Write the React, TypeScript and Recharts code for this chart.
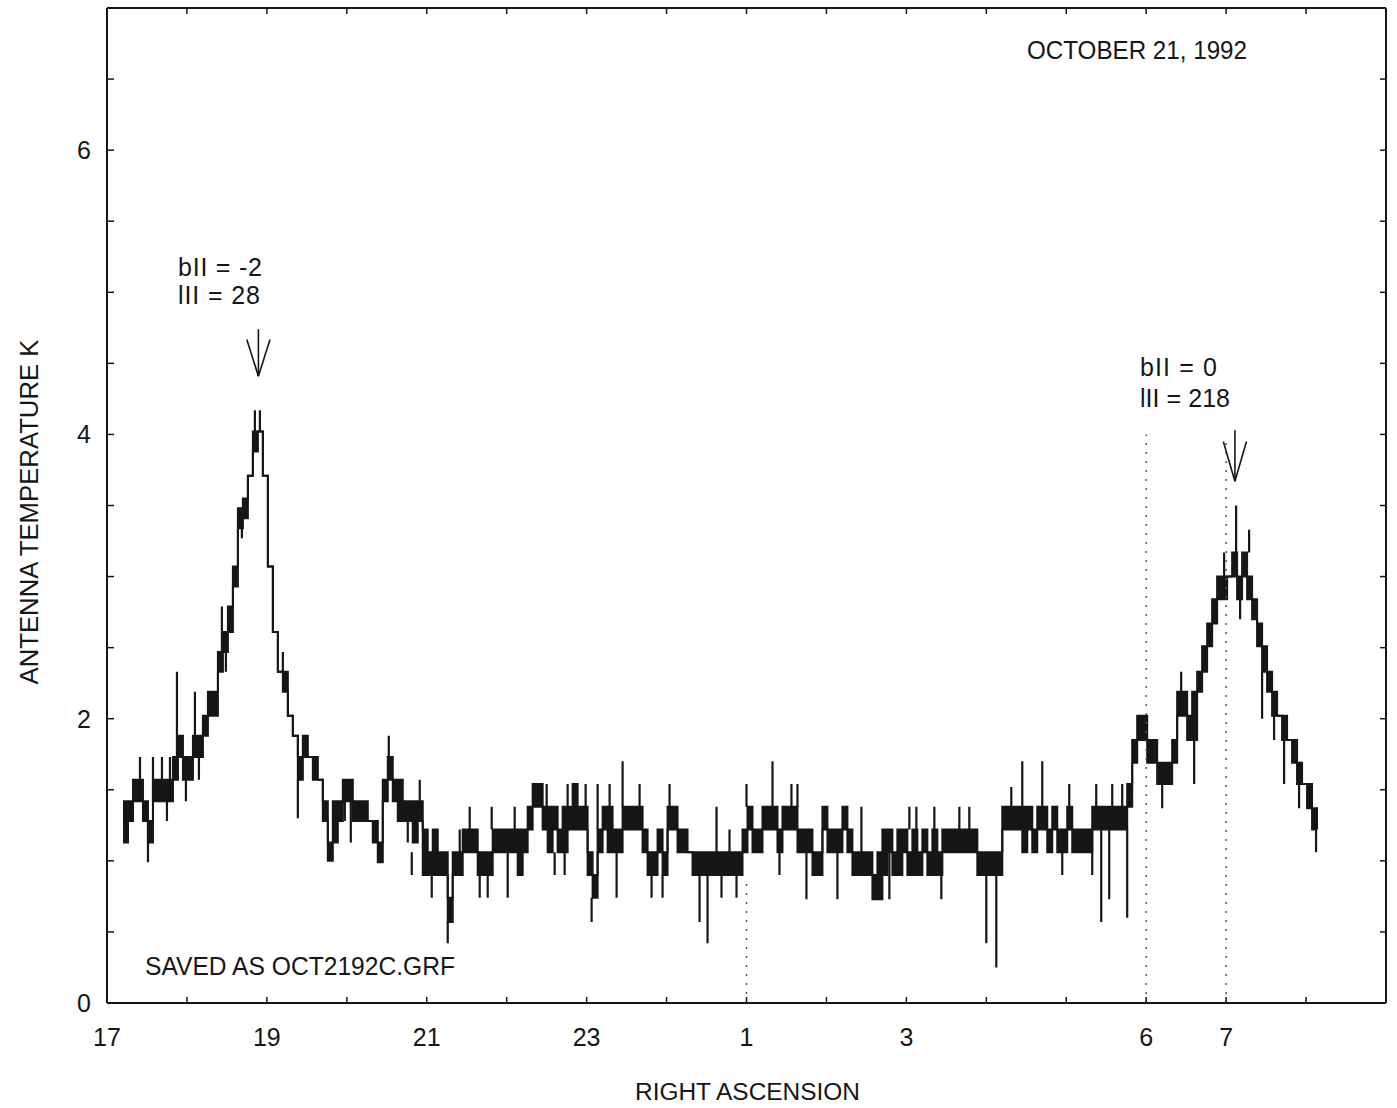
import React from 'react';
import { ComposedChart, Area, Line, XAxis, YAxis, ReferenceLine } from 'recharts';

const FONT = '"Liberation Sans", Arial, Helvetica, sans-serif';
const INK = '#161616';

// drift scan: first reading 0.2 h after 17h RA, one reading every 1/16 h
const SCAN_START = 0.2;
const SCAN_STEP = 0.0625;

// [low, high] of the pen trace (K) for each reading
// 17h - 20.9h, galactic plane crossing at lII = 28
const bandRise = [
  [1.13, 1.42], [1.28, 1.42], [1.42, 1.57], [1.42, 1.57], [1.28, 1.42], [1.13, 1.28], [1.42, 1.57], [1.42, 1.57], [1.42, 1.57], [1.42, 1.57],
  [1.57, 1.73], [1.73, 1.88], [1.57, 1.73], [1.57, 1.73], [1.73, 1.88], [1.73, 1.88], [1.88, 2.02], [2.02, 2.19], [2.02, 2.19], [2.33, 2.47],
  [2.47, 2.61], [2.61, 2.79], [2.93, 3.07], [3.34, 3.48], [3.41, 3.55], [3.71, 3.71], [3.88, 4.02], [4.02, 4.02], [3.71, 3.71], [3.07, 3.07],
  [2.61, 2.61], [2.33, 2.33], [2.19, 2.33], [2.02, 2.02], [1.88, 1.88], [1.57, 1.73], [1.73, 1.88], [1.73, 1.73], [1.57, 1.73], [1.57, 1.57],
  [1.28, 1.42], [1.0, 1.13], [1.13, 1.42], [1.28, 1.42], [1.42, 1.57], [1.42, 1.57], [1.28, 1.42], [1.28, 1.42], [1.28, 1.42], [1.28, 1.28],
  [1.13, 1.28], [0.99, 1.13], [1.42, 1.57], [1.57, 1.73], [1.42, 1.57], [1.28, 1.57], [1.28, 1.42], [1.28, 1.42], [1.13, 1.42], [1.28, 1.42],
];

// 21h - 1.6h, off the plane
const bandHighLat = [
  [0.9, 1.22], [0.9, 1.06], [0.9, 1.22], [0.9, 1.06], [0.9, 1.06], [0.57, 0.74], [0.9, 1.06], [0.9, 1.06], [1.06, 1.22], [1.06, 1.22],
  [1.06, 1.22], [0.9, 1.06], [0.9, 1.06], [0.9, 1.06], [1.06, 1.22], [1.06, 1.22], [1.06, 1.22], [1.06, 1.22], [1.06, 1.22], [0.9, 1.22],
  [1.06, 1.22], [1.22, 1.38], [1.38, 1.54], [1.38, 1.54], [1.22, 1.38], [1.06, 1.38], [1.22, 1.38], [1.06, 1.22], [1.06, 1.38], [1.22, 1.38],
  [1.22, 1.54], [1.22, 1.38], [1.22, 1.38], [0.9, 1.06], [0.74, 0.9], [1.06, 1.22], [1.22, 1.38], [1.06, 1.38], [1.06, 1.22], [1.06, 1.22],
  [1.22, 1.38], [1.22, 1.38], [1.22, 1.38], [1.22, 1.38], [1.06, 1.22], [0.9, 1.06], [0.9, 1.06], [1.06, 1.22], [0.9, 1.06], [1.22, 1.38],
  [1.22, 1.38], [1.06, 1.22], [1.06, 1.22], [1.06, 1.06], [0.9, 1.06], [0.9, 1.06], [0.9, 1.06], [0.9, 1.06], [0.9, 1.06], [0.9, 1.06],
  [0.9, 1.06], [0.9, 1.06], [0.9, 1.06], [0.9, 1.06], [1.06, 1.22], [1.22, 1.38], [1.06, 1.22], [1.06, 1.22], [1.22, 1.38], [1.22, 1.38],
  [1.22, 1.38], [1.06, 1.22], [1.22, 1.38], [1.22, 1.38], [1.22, 1.38], [1.06, 1.22],
];

// 1.6h - 5.9h
const bandLateBase = [
  [1.06, 1.22], [1.06, 1.22], [0.9, 1.06], [0.9, 1.06], [1.22, 1.38], [1.06, 1.22], [1.06, 1.22], [1.06, 1.22], [1.22, 1.38], [1.06, 1.22],
  [0.9, 1.06], [0.9, 1.06], [0.9, 1.06], [0.9, 1.06], [0.73, 0.9], [0.73, 1.06], [0.9, 1.22], [1.06, 1.22], [0.9, 1.06], [0.9, 1.22],
  [1.06, 1.22], [0.9, 1.06], [0.9, 1.22], [0.9, 1.06], [1.06, 1.22], [0.9, 1.06], [0.9, 1.22], [0.9, 1.06], [1.06, 1.22], [1.06, 1.22],
  [1.06, 1.22], [1.06, 1.22], [1.06, 1.22], [1.06, 1.22], [1.06, 1.22], [0.9, 1.06], [0.9, 1.06], [0.9, 1.06], [0.9, 1.06], [0.9, 1.06],
  [1.22, 1.38], [1.22, 1.38], [1.22, 1.38], [1.22, 1.38], [1.06, 1.38], [1.22, 1.38], [1.06, 1.22], [1.22, 1.38], [1.22, 1.38], [1.06, 1.22],
  [1.22, 1.38], [1.06, 1.22], [1.06, 1.22], [1.22, 1.38], [1.06, 1.22], [1.06, 1.22], [1.06, 1.22], [1.06, 1.22], [1.22, 1.38], [1.22, 1.38],
  [1.22, 1.38], [1.22, 1.38], [1.22, 1.38], [1.22, 1.38], [1.22, 1.38], [1.38, 1.54],
];

// 5.9h - 8.2h, plane crossing at lII = 218
const bandAnticentre = [
  [1.69, 1.85], [1.85, 2.02], [1.85, 2.02], [1.69, 1.85], [1.69, 1.85], [1.54, 1.69], [1.54, 1.69], [1.54, 1.69], [1.69, 1.85], [2.02, 2.19],
  [2.02, 2.19], [1.85, 2.02], [1.85, 2.19], [2.19, 2.33], [2.33, 2.51], [2.51, 2.67], [2.67, 2.84], [2.84, 3.0], [2.84, 3.0], [3.0, 3.0],
  [3.0, 3.17], [2.84, 3.0], [3.0, 3.17], [2.84, 3.0], [2.7, 2.84], [2.51, 2.67], [2.33, 2.51], [2.19, 2.33], [2.02, 2.19], [2.02, 2.02],
  [1.85, 2.02], [1.85, 1.85], [1.69, 1.85], [1.54, 1.69], [1.54, 1.54], [1.37, 1.54], [1.22, 1.37], [1.22, 1.22],
];

// single-reading noise spikes: position (h after 17h) and extent (K)
const spikeHours = [
  0.4125, 0.5125, 0.575, 0.6875, 0.75, 0.7875, 0.875, 0.9875, 1.1, 1.15, 1.4375, 1.4875, 1.6875, 1.85, 1.9125, 2.2, 2.3875, 2.975, 3.05, 3.525,
  3.7625, 3.8125, 3.9125, 4.0625, 4.2625, 4.4125, 4.5375, 4.6625, 4.7625, 4.8125, 5.0125, 5.1, 5.5, 5.6, 5.725, 5.7625, 5.9875, 6.0625, 6.1375, 6.2875,
  6.375, 6.45, 6.6625, 6.8125, 6.95, 7.0375, 7.4125, 7.5125, 7.625, 7.6875, 7.7875, 7.875, 8.0, 8.325, 8.4125, 8.5625, 8.6375, 8.75, 9.1375, 9.4375,
  9.7875, 10.0375, 10.125, 10.35, 10.4375, 10.6625, 10.7875, 11.0, 11.125, 11.3125, 11.45, 11.7, 11.95, 12.0375, 12.325, 12.375, 12.4375, 12.5375, 12.575, 12.7,
  12.7625, 13.2, 13.4375, 13.6, 13.975, 14.125, 14.175, 14.2875, 14.45, 14.6, 14.725, 14.9125, 15.125,
];
const spikeLow = [
  1.42, 0.99, 1.42, 1.42, 1.28, 1.42, 1.73, 1.42, 1.73, 1.57, 2.47, 2.33, 3.27, 4.02, 4.02, 2.33, 1.3, 1.28, 1.13, 1.73,
  1.13, 0.9, 1.42, 0.74, 0.42, 1.06, 1.22, 0.74, 0.74, 1.22, 0.74, 1.22, 1.38, 0.9, 0.9, 1.38, 1.38, 0.57, 1.22, 1.38,
  0.74, 1.38, 1.38, 0.74, 0.74, 1.38, 0.57, 0.42, 1.06, 0.74, 1.06, 0.74, 1.38, 1.38, 0.9, 1.38, 1.38, 0.73, 0.73, 1.06,
  0.73, 1.22, 1.22, 1.22, 0.73, 1.22, 1.22, 0.42, 0.25, 1.38, 1.38, 1.38, 0.9, 1.38, 0.9, 1.38, 0.57, 0.73, 1.38, 1.38,
  0.6, 1.37, 2.19, 1.54, 3.0, 3.17, 2.7, 3.17, 2.0, 1.85, 1.54, 1.37, 1.06,
];
const spikeHigh = [
  1.73, 1.28, 1.73, 1.73, 1.42, 1.73, 2.33, 1.57, 2.19, 1.73, 2.79, 2.47, 3.41, 4.17, 4.17, 2.47, 1.57, 1.42, 1.42, 1.88,
  1.28, 1.06, 1.57, 0.9, 0.57, 1.22, 1.38, 0.9, 0.9, 1.38, 1.06, 1.38, 1.54, 1.06, 1.06, 1.54, 1.54, 0.74, 1.54, 1.54,
  1.06, 1.7, 1.54, 0.9, 0.9, 1.54, 0.9, 0.9, 1.38, 0.9, 1.22, 0.9, 1.54, 1.7, 1.06, 1.54, 1.54, 1.06, 1.06, 1.38,
  1.06, 1.38, 1.38, 1.38, 0.9, 1.38, 1.38, 0.9, 0.9, 1.52, 1.7, 1.7, 1.06, 1.54, 1.22, 1.54, 1.22, 1.22, 1.54, 1.54,
  1.22, 1.54, 2.33, 1.85, 3.17, 3.5, 2.84, 3.33, 2.33, 2.02, 1.85, 1.54, 1.22,
];

// axes: hours after 17h RA, antenna temperature K
const hourTicks = [0, 1, 2, 3, 4, 5, 6, 7, 8, 9, 10, 11, 12, 13, 14, 15, 16];
const raLabelHours = [0, 2, 4, 6, 8, 10, 13, 14];
const raLabels = ['17', '19', '21', '23', '1', '3', '6', '7'];
const tempTicks = [0, 0.5, 1, 1.5, 2, 2.5, 3, 3.5, 4, 4.5, 5, 5.5, 6, 6.5, 7];
const tempLabels = [0, 2, 4, 6];

// source markers (arrows) and dotted position lines
const sourceHours = [1.894, 14.11];
const sourceTop = [4.74, 4.03];
const sourceTip = [4.41, 3.67];
const markerHours = [8, 13, 14];
const markerTop = [0.85, 4.0, 3.95];

const scan = [...bandRise, ...bandHighLat, ...bandLateBase, ...bandAnticentre].map((band, i) => ({
  h: SCAN_START + i * SCAN_STEP,
  band,
}));

const spikes = spikeHours.flatMap((h, i) => [
  { h, t: spikeLow[i] },
  { h, t: spikeHigh[i] },
  { h, t: null },
]);

const axisLine = { stroke: INK, strokeWidth: 2 };
const tickLine = { stroke: INK, strokeWidth: 1.5 };
const tickFont = { fontSize: 25, fill: INK, fontFamily: FONT };
const textStyle = { fontSize: 25, fill: INK, fontFamily: FONT };

export default function App() {
  return (
    <div style={{ position: 'absolute', left: 0, top: 0, width: 1397, height: 1108, background: '#fff' }}>
      <ComposedChart width={1397} height={1108} data={scan} margin={{ top: 0, right: 0, bottom: 0, left: 0 }}>
        <XAxis
          dataKey="h"
          type="number"
          domain={[0, 16]}
          allowDataOverflow
          ticks={hourTicks}
          interval={0}
          height={105}
          tickSize={-6}
          tickMargin={31}
          tick={tickFont}
          axisLine={axisLine}
          tickLine={tickLine}
          tickFormatter={(h: number) => {
            const k = raLabelHours.indexOf(h);
            return k >= 0 ? raLabels[k] : '';
          }}
        />
        <XAxis
          xAxisId="top"
          dataKey="h"
          orientation="top"
          type="number"
          domain={[0, 16]}
          allowDataOverflow
          ticks={hourTicks}
          interval={0}
          height={8}
          tickSize={-6}
          axisLine={axisLine}
          tickLine={tickLine}
          tickFormatter={() => ''}
        />
        <YAxis
          type="number"
          domain={[0, 7]}
          allowDataOverflow
          ticks={tempTicks}
          interval={0}
          width={107}
          tickSize={-7}
          tickMargin={23}
          tick={tickFont}
          axisLine={axisLine}
          tickLine={tickLine}
          tickFormatter={(v: number) => (tempLabels.includes(v) ? String(v) : '')}
        />
        <YAxis
          yAxisId="right"
          orientation="right"
          type="number"
          domain={[0, 7]}
          allowDataOverflow
          ticks={tempTicks}
          interval={0}
          width={11}
          tickSize={-6}
          axisLine={axisLine}
          tickLine={tickLine}
          tickFormatter={() => ''}
        />

        {markerHours.map((h, i) => (
          <ReferenceLine
            key={`m${i}`}
            segment={[{ x: h, y: 0 }, { x: h, y: markerTop[i] }]}
            stroke="#555"
            strokeWidth={1.5}
            strokeDasharray="2 7"
          />
        ))}

        <Area
          dataKey="band"
          type="stepAfter"
          stroke={INK}
          strokeWidth={2}
          fill={INK}
          fillOpacity={1}
          dot={false}
          activeDot={false}
          isAnimationActive={false}
        />
        <Line
          data={spikes}
          dataKey="t"
          type="linear"
          stroke={INK}
          strokeWidth={2.2}
          dot={false}
          activeDot={false}
          connectNulls={false}
          isAnimationActive={false}
        />

        {sourceHours.map((h, i) => (
          <ReferenceLine
            key={`s${i}`}
            segment={[{ x: h, y: sourceTop[i] }, { x: h, y: sourceTip[i] }]}
            stroke={INK}
            strokeWidth={1.6}
          />
        ))}
        {sourceHours.map((h, i) => (
          <ReferenceLine
            key={`l${i}`}
            segment={[{ x: h - 0.145, y: sourceTip[i] + (sourceTop[i] - sourceTip[i]) * 0.78 }, { x: h, y: sourceTip[i] }]}
            stroke={INK}
            strokeWidth={1.6}
          />
        ))}
        {sourceHours.map((h, i) => (
          <ReferenceLine
            key={`r${i}`}
            segment={[{ x: h + 0.145, y: sourceTip[i] + (sourceTop[i] - sourceTip[i]) * 0.78 }, { x: h, y: sourceTip[i] }]}
            stroke={INK}
            strokeWidth={1.6}
          />
        ))}

        <text x={1027} y={59} {...textStyle} textLength={220} lengthAdjust="spacingAndGlyphs">
          OCTOBER 21, 1992
        </text>
        <text x={178} y={276} {...textStyle} textLength={84} lengthAdjust="spacing">
          bII = -2
        </text>
        <text x={178} y={304} {...textStyle} textLength={82} lengthAdjust="spacing">
          lII = 28
        </text>
        <text x={1140} y={376} {...textStyle} textLength={77} lengthAdjust="spacing">
          bII = 0
        </text>
        <text x={1140} y={407} {...textStyle} textLength={90} lengthAdjust="spacing">
          lII = 218
        </text>
        <text x={145} y={975} {...textStyle} textLength={310} lengthAdjust="spacingAndGlyphs">
          SAVED AS OCT2192C.GRF
        </text>
        <text x={635} y={1100} {...textStyle} fontSize={23} textLength={225} lengthAdjust="spacingAndGlyphs">
          RIGHT ASCENSION
        </text>
        <text
          transform="translate(38, 512) rotate(-90)"
          textAnchor="middle"
          {...textStyle}
          textLength={345}
          lengthAdjust="spacingAndGlyphs"
        >
          ANTENNA TEMPERATURE K
        </text>
      </ComposedChart>
    </div>
  );
}
